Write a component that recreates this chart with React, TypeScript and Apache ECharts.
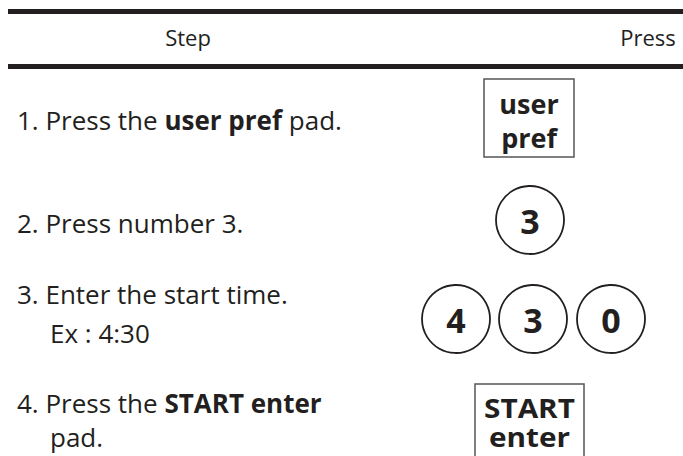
import React, { useEffect, useRef } from "react";
import * as echarts from "echarts";

const headers = ["Step", "Press"];
// each step: lines of [normal, bold, normal] segments
const stepLines: string[][][] = [
  [["1. Press the ", "user pref", " pad."]],
  [["2. Press number 3.", "", ""]],
  [["3. Enter the start time.", "", ""], ["Ex : 4:30", "", ""]],
  [["4. Press the ", "START enter", ""], ["pad.", "", ""]],
];
const squareKeys: string[][] = [["user", "pref"], ["START", "enter"]];
const roundKeys: string[][] = [["3"], ["4", "3", "0"]];

const INK = "#231f20";
const FONT = "'Open Sans', 'Noto Sans', sans-serif";

export default function App() {
  const ref = useRef<HTMLDivElement>(null);
  useEffect(() => {
    if (!ref.current) return;
    const chart = echarts.init(ref.current, undefined, { renderer: "svg" });
    const els: any[] = [];
    // rules
    els.push({ type: "rect", shape: { x: 8, y: 9, width: 675, height: 5 }, style: { fill: INK } });
    els.push({ type: "rect", shape: { x: 8, y: 64, width: 675, height: 5 }, style: { fill: INK } });
    // headers
    const hx = [188, 648];
    headers.forEach((h, i) => {
      els.push({
        type: "text", x: hx[i], y: 37,
        style: { text: h, fill: INK, font: `22px ${FONT}`, align: "center", verticalAlign: "middle", lineHeight: 24 },
      });
    });
    // step texts
    const lineY = [[120], [223], [294, 333], [403, 437]];
    stepLines.forEach((lines, si) => {
      lines.forEach((seg, li) => {
        const parts: string[] = [];
        if (seg[0]) parts.push(`{n|${seg[0]}}`);
        if (seg[1]) parts.push(`{b|${seg[1]}}`);
        if (seg[2]) parts.push(`{n|${seg[2]}}`);
        els.push({
          type: "text", x: li === 0 ? 17 : 50, y: lineY[si][li],
          style: {
            text: parts.join(""),
            fill: INK,
            verticalAlign: "middle",
            align: "left",
            rich: {
              n: { fontFamily: FONT, fontSize: 26, fill: INK, fontWeight: "normal", lineHeight: 26 },
              b: { fontFamily: FONT, fontSize: 26, fill: INK, fontWeight: "bold", lineHeight: 26 },
            },
          },
        });
      });
    });
    // square keys
    const sq = [
      { x: 484, y: 79, w: 90, h: 78, ty: [103, 137], fs: 27, sx: 1 },
      { x: 475, y: 384, w: 109, h: 90, ty: [408, 437], fs: 27, sx: 1.1 },
    ];
    squareKeys.forEach((k, i) => {
      const b = sq[i];
      els.push({
        type: "rect", shape: { x: b.x, y: b.y, width: b.w, height: b.h },
        style: { fill: "#fff", stroke: "#555", lineWidth: 1.5 },
      });
      k.forEach((t, j) => {
        els.push({
          type: "text", x: b.x + b.w / 2, y: b.ty[j], scaleX: b.sx,
          style: { text: t, fill: INK, font: `bold ${b.fs}px ${FONT}`, align: "center", verticalAlign: "middle", lineHeight: 24 },
        });
      });
    });
    // round keys
    const rk = [
      { cy: 220, cx: [530] },
      { cy: 319, cx: [456, 533, 611] },
    ];
    roundKeys.forEach((row, i) => {
      row.forEach((t, j) => {
        const cx = rk[i].cx[j];
        const cy = rk[i].cy;
        els.push({
          type: "circle", shape: { cx, cy, r: 34 },
          style: { fill: "#fff", stroke: INK, lineWidth: 1.8 },
        });
        els.push({
          type: "text", x: cx, y: cy + 1,
          style: { text: t, fill: INK, font: `bold 34px ${FONT}`, align: "center", verticalAlign: "middle", lineHeight: 36 },
        });
      });
    });
    chart.setOption({ animation: false, graphic: { elements: els } });
    return () => chart.dispose();
  }, []);
  return <div ref={ref} style={{ width: 683, height: 456, position: "absolute", left: 0, top: 0, background: "#fff" }} />;
}
